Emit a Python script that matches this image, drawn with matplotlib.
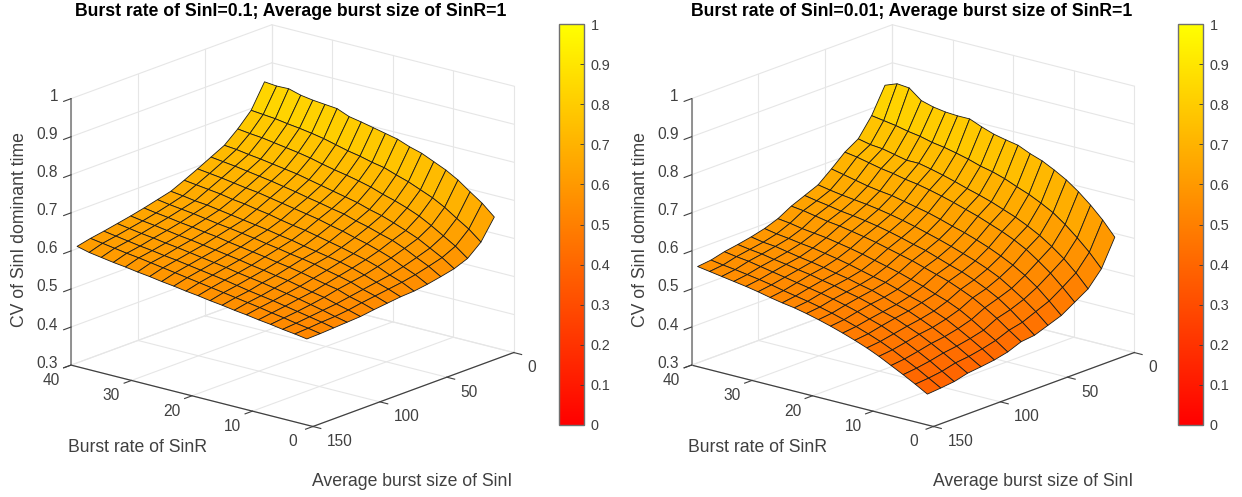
import matplotlib
matplotlib.use('Agg')
import numpy as np
import matplotlib.pyplot as plt
from matplotlib import cm
from matplotlib.colors import Normalize
from mpl_toolkits.mplot3d import proj3d

plt.rcParams['font.family'] = ['Liberation Sans', 'DejaVu Sans']

W, H = 1242, 497
DARK = '#404040'
GRID = '#e6e6e6'

burst_rate_sinr = [1, 3, 5, 7, 9, 11, 13, 15, 17, 19, 21, 23, 25, 27, 29, 31, 33, 35, 37, 39]
burst_size_sini = [10, 20, 30, 40, 50, 60, 70, 80, 90, 100, 110, 120, 130, 140, 150]

x_ticks = [0, 10, 20, 30, 40]
y_ticks = [0, 50, 100, 150]
z_ticks = [0.3, 0.4, 0.5, 0.6, 0.7, 0.8, 0.9, 1]
z_tick_labels = ['0.3', '0.4', '0.5', '0.6', '0.7', '0.8', '0.9', '1']
cbar_ticks = [0, 0.1, 0.2, 0.3, 0.4, 0.5, 0.6, 0.7, 0.8, 0.9, 1]
cbar_labels = ['0', '0.1', '0.2', '0.3', '0.4', '0.5', '0.6', '0.7', '0.8', '0.9', '1']

# one row per burst size, one column per burst rate
cv_left = [
    [.665, .693, .715, .738, .756, .770, .784, .793, .805, .812, .819, .826, .832, .845, .848, .851, .856, .865, .864, .867],
    [.612, .638, .658, .679, .696, .709, .722, .732, .743, .749, .757, .763, .771, .779, .785, .790, .794, .799, .802, .805],
    [.582, .606, .625, .644, .661, .674, .685, .694, .705, .713, .720, .726, .733, .741, .747, .752, .757, .762, .765, .769],
    [.568, .589, .606, .623, .636, .648, .659, .667, .677, .684, .691, .698, .705, .712, .717, .722, .727, .731, .736, .739],
    [.560, .579, .594, .610, .623, .632, .642, .650, .660, .666, .673, .679, .686, .692, .698, .703, .708, .713, .717, .721],
    [.553, .570, .583, .598, .609, .619, .627, .636, .643, .651, .657, .663, .669, .675, .681, .685, .690, .695, .699, .703],
    [.548, .563, .574, .588, .598, .606, .614, .621, .628, .635, .640, .646, .653, .658, .664, .668, .674, .678, .682, .686],
    [.546, .558, .568, .579, .589, .597, .603, .609, .615, .622, .627, .633, .638, .643, .648, .653, .658, .661, .666, .670],
    [.542, .553, .562, .573, .581, .588, .596, .602, .607, .613, .618, .624, .629, .634, .638, .643, .648, .652, .656, .661],
    [.538, .548, .556, .567, .573, .580, .587, .593, .598, .604, .609, .614, .619, .625, .629, .634, .638, .643, .647, .652],
    [.533, .542, .550, .559, .565, .572, .579, .584, .590, .595, .601, .606, .611, .616, .621, .625, .630, .635, .639, .644],
    [.531, .538, .546, .553, .560, .566, .572, .578, .583, .588, .594, .599, .604, .609, .614, .618, .623, .627, .632, .637],
    [.529, .536, .542, .548, .554, .560, .565, .570, .576, .582, .587, .592, .597, .602, .606, .611, .615, .620, .625, .630],
    [.527, .533, .538, .544, .549, .555, .560, .565, .570, .575, .580, .585, .590, .595, .600, .605, .609, .614, .619, .624],
    [.526, .531, .535, .540, .544, .549, .553, .558, .562, .567, .571, .576, .580, .585, .589, .594, .598, .603, .608, .616],
]

cv_right = [
    [.612, .649, .680, .707, .730, .748, .764, .775, .789, .795, .802, .813, .826, .826, .828, .833, .842, .867, .870, .858],
    [.542, .577, .607, .634, .657, .674, .689, .701, .714, .724, .731, .741, .749, .756, .761, .769, .774, .781, .786, .791],
    [.502, .536, .565, .589, .610, .627, .642, .654, .666, .676, .685, .695, .704, .712, .719, .719, .726, .733, .736, .743],
    [.480, .511, .540, .564, .586, .603, .617, .629, .641, .651, .661, .670, .678, .685, .690, .697, .702, .709, .716, .721],
    [.458, .488, .516, .539, .558, .574, .588, .600, .611, .620, .630, .639, .646, .653, .660, .664, .669, .676, .683, .690],
    [.445, .473, .497, .518, .538, .553, .566, .577, .588, .598, .607, .616, .624, .631, .637, .642, .646, .650, .655, .661],
    [.432, .458, .483, .505, .522, .537, .550, .560, .571, .582, .590, .599, .607, .614, .620, .625, .629, .635, .640, .646],
    [.428, .450, .473, .493, .511, .525, .538, .548, .558, .568, .576, .584, .592, .599, .605, .611, .615, .621, .627, .631],
    [.414, .436, .455, .475, .493, .507, .518, .530, .540, .550, .558, .566, .574, .581, .587, .593, .597, .601, .607, .611],
    [.406, .427, .446, .464, .481, .494, .508, .517, .527, .537, .544, .552, .560, .567, .573, .579, .583, .588, .592, .598],
    [.401, .420, .439, .456, .472, .486, .499, .508, .519, .529, .536, .544, .550, .557, .563, .568, .574, .580, .583, .589],
    [.397, .416, .434, .451, .467, .480, .493, .502, .514, .523, .530, .538, .544, .551, .556, .562, .567, .573, .577, .582],
    [.388, .407, .426, .443, .459, .473, .486, .496, .507, .516, .524, .531, .537, .543, .549, .555, .561, .567, .571, .576],
    [.384, .402, .420, .436, .452, .466, .478, .489, .499, .508, .516, .523, .529, .535, .542, .548, .553, .558, .562, .567],
    [.381, .399, .416, .432, .448, .462, .474, .485, .495, .504, .512, .519, .524, .530, .537, .543, .548, .553, .558, .563],
]


def px_rect(left, top, width, height):
	return [left / W, 1 - (top + height) / H, width / W, height / H]


def tick_label(ax, text, x, y, z, dx, dy, ha):
	px, py, _ = proj3d.proj_transform(x, y, z, ax.get_proj())
	ax.annotate(text, xy=(px, py), xycoords='data', xytext=(dx, dy), textcoords='offset pixels',
		ha=ha, va='center', fontsize=11.2, color=DARK, annotation_clip=False)


def draw_panel(fig, cx, cv, title, cbar_left):
	size = 510
	ax = fig.add_axes(px_rect(cx - 6.5 - size / 2, 232.5 - size / 2, size, size), projection='3d')
	ax.set_proj_type('ortho')
	ax.view_init(elev=17.8, azim=129.7)
	ax.set_box_aspect((1, 1, 0.89), zoom=1.0)
	ax.set_xlim(0, 40)
	ax.set_ylim(0, 150)
	ax.set_zlim(0.3, 1)
	ax.set_axis_off()
	ax.computed_zorder = False

	# back walls and floor
	for t in x_ticks:
		ax.plot([t, t], [0, 150], [0.3, 0.3], color=GRID, lw=0.8, zorder=1)
		ax.plot([t, t], [0, 0], [0.3, 1], color=GRID, lw=0.8, zorder=1)
	for t in y_ticks:
		ax.plot([0, 40], [t, t], [0.3, 0.3], color=GRID, lw=0.8, zorder=1)
		ax.plot([40, 40], [t, t], [0.3, 1], color=GRID, lw=0.8, zorder=1)
	for t in z_ticks:
		ax.plot([40, 40], [0, 150], [t, t], color=GRID, lw=0.8, zorder=1)
		ax.plot([0, 40], [0, 0], [t, t], color=GRID, lw=0.8, zorder=1)

	X, Y = np.meshgrid(burst_rate_sinr, burst_size_sini)
	ax.plot_surface(X, Y, np.array(cv), rstride=1, cstride=1, cmap='autumn', vmin=0, vmax=1,
		shade=False, edgecolor='#1a1a1a', linewidth=0.6, antialiased=True, zorder=2)

	# axis lines with ticks
	ax.plot([0, 40], [150, 150], [0.3, 0.3], color=DARK, lw=0.9, zorder=3)
	ax.plot([0, 0], [0, 150], [0.3, 0.3], color=DARK, lw=0.9, zorder=3)
	ax.plot([40, 40], [150, 150], [0.3, 1], color='#808080', lw=1.2, zorder=3)
	for t in x_ticks:
		ax.plot([t, t], [150, 155.5], [0.3, 0.3], color=DARK, lw=0.8, zorder=3)
		tick_label(ax, str(t), t, 150, 0.3, -20, -15.5, 'center')
	for t in y_ticks:
		ax.plot([0, -1.3], [t, t], [0.3, 0.3], color=DARK, lw=0.8, zorder=3)
		tick_label(ax, str(t), 0, t, 0.3, 14, -15, 'left')
	for t, lab in zip(z_ticks, z_tick_labels):
		ax.plot([40, 40], [150, 155.5], [t, t], color=DARK, lw=0.8, zorder=3)
		tick_label(ax, lab, 40, 150, t, -13, 2, 'right')

	offset = cx - 292
	fig.text((291 + offset) / W, 1 - 12 / H, title, fontsize=12.7, fontweight='bold',
		ha='center', va='center', color='black')
	fig.text((20 + offset) / W, 1 - 230 / H, 'CV of SinI dominant time', fontsize=12.7, rotation=90,
		ha='center', va='center', color=DARK)
	fig.text((137.5 + offset) / W, 1 - 448 / H, 'Burst rate of SinR', fontsize=12.7,
		ha='center', va='center', color=DARK)
	fig.text((412.5 + offset) / W, 1 - 481 / H, 'Average burst size of SinI', fontsize=12.7,
		ha='center', va='center', color=DARK)

	cax = fig.add_axes(px_rect(cbar_left, 24, 25, 401))
	cb = fig.colorbar(cm.ScalarMappable(Normalize(0, 1), cmap='autumn'), cax=cax)
	cb.set_ticks(cbar_ticks)
	cb.set_ticklabels(cbar_labels)
	cb.ax.tick_params(direction='in', length=3, width=0.7, color=DARK, labelcolor=DARK, labelsize=10.4, pad=5)
	cb.outline.set_edgecolor('#707070')
	cb.outline.set_linewidth(1)


fig = plt.figure(figsize=(W / 100, H / 100), dpi=100)
draw_panel(fig, 292, cv_left, 'Burst rate of SinI=0.1; Average burst size of SinR=1', 559)
draw_panel(fig, 912.5, cv_right, 'Burst rate of SinI=0.01; Average burst size of SinR=1', 1178)
fig.savefig('out.png', dpi=100)
